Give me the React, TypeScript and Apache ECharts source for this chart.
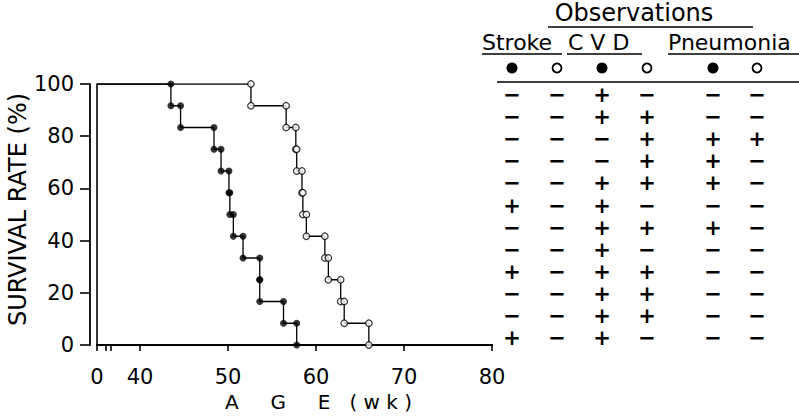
import React, { useEffect, useRef } from 'react';
import * as echarts from 'echarts';

// ---- axis layout values (broken age axis: "0" then 40..80) ----
const AGE_ZERO_POS = 35.1; // where the "0" of the broken age axis sits
const BREAK_LEFT = 36.14;
const BREAK_RIGHT = 36.7;
const X_MAX = 80;
const X_LABELS = [40, 50, 60, 70, 80];
const Y_MAX = 100;
const Y_INTERVAL = 20;

// ---- survival data: ages (wk) at which each animal died, 12 per group ----
const filledDeaths = [43.5, 44.6, 48.4, 49.2, 50.1, 50.2, 50.6, 51.7, 53.6, 53.6, 56.3, 57.8];
const openDeaths = [52.6, 56.6, 57.7, 57.8, 58.4, 58.5, 58.9, 61.0, 61.4, 62.8, 63.2, 66.0];

// ---- observation table ----
const tableTitle = 'Observations';
const groupHeads = ['Stroke', 'C V D', 'Pneumonia'];
const strokeFilled = ['−', '−', '−', '−', '−', '+', '−', '−', '+', '−', '−', '+'];
const strokeOpen = ['−', '−', '−', '−', '−', '−', '−', '−', '−', '−', '−', '−'];
const cvdFilled = ['+', '+', '−', '−', '+', '+', '+', '+', '+', '+', '+', '+'];
const cvdOpen = ['−', '+', '+', '+', '+', '−', '+', '−', '+', '+', '+', '−'];
const pneuFilled = ['−', '−', '+', '+', '+', '−', '+', '−', '−', '−', '−', '−'];
const pneuOpen = ['−', '−', '+', '−', '−', '−', '−', '−', '−', '−', '−', '−'];

const FONT = 'DejaVu Sans';

function stepVertices(deaths: number[]) {
  const n = deaths.length;
  const pts: number[][] = [[AGE_ZERO_POS, 100]];
  const marks: number[][] = [];
  let s = 100;
  deaths.forEach((t, i) => {
    const next = (100 * (n - i - 1)) / n;
    pts.push([t, s]);
    marks.push([t, s]);
    pts.push([t, next]);
    marks.push([t, next]);
    s = next;
  });
  return { pts, marks };
}

export default function App() {
  const ref = useRef<HTMLDivElement>(null);
  useEffect(() => {
    if (!ref.current) return;
    const chart = echarts.init(ref.current, undefined, { renderer: 'svg' });
    const f = stepVertices(filledDeaths);
    const o = stepVertices(openDeaths);

    const axisText = { color: '#000', fontFamily: FONT, fontSize: 21 };

    chart.setOption({
      animation: false,
      backgroundColor: '#fff',
      grid: { left: 97, right: 307, top: 84, bottom: 68, containLabel: false },
      xAxis: [
        {
          type: 'value',
          min: AGE_ZERO_POS,
          max: X_MAX,
          position: 'bottom',
          offset: 4,
          axisLine: { show: true, lineStyle: { color: '#000', width: 1.8 } },
          axisTick: {
            show: true,
            length: 6,
            customValues: [AGE_ZERO_POS, BREAK_LEFT, BREAK_RIGHT, ...X_LABELS],
            lineStyle: { color: '#000', width: 1.6 },
          },
          axisLabel: {
            show: true,
            customValues: [AGE_ZERO_POS, ...X_LABELS],
            formatter: (v: number) => (v < 40 ? '0' : String(Math.round(v))),
            margin: 17,
            ...axisText,
          },
          splitLine: { show: false },
          name: 'A\u00A0\u00A0\u00A0\u00A0\u00A0G\u00A0\u00A0\u00A0\u00A0\u00A0E\u00A0\u00A0\u00A0(\u00A0w\u00A0k\u00A0)',
          nameLocation: 'middle',
          nameGap: 43,
          nameTextStyle: { color: '#000', fontFamily: FONT, fontSize: 20, padding: [0, 0, 0, 48] },
        },
        {
          type: 'value',
          min: AGE_ZERO_POS,
          max: X_MAX,
          position: 'bottom',
          offset: 0,
          axisLine: { show: true, lineStyle: { color: '#000', width: 2.2 } },
          axisTick: { show: false },
          axisLabel: { show: false },
          splitLine: { show: false },
        },
      ],
      yAxis: [
        {
          type: 'value',
          min: 0,
          max: Y_MAX,
          interval: Y_INTERVAL,
          position: 'left',
          offset: 7,
          axisLine: { show: true, lineStyle: { color: '#000', width: 1.8 } },
          axisTick: { show: true, length: 10, lineStyle: { color: '#000', width: 1.6 } },
          axisLabel: { margin: 16, ...axisText },
          splitLine: { show: false },
          name: 'SURVIVAL RATE (%)',
          nameLocation: 'middle',
          nameRotate: 90,
          nameGap: 56,
          nameTextStyle: { color: '#000', fontFamily: FONT, fontSize: 24, padding: [0, 0, 0, 10] },
        },
        {
          type: 'value',
          min: 0,
          max: Y_MAX,
          position: 'left',
          offset: 0,
          axisLine: { show: true, lineStyle: { color: '#000', width: 1.6 } },
          axisTick: { show: false },
          axisLabel: { show: false },
          splitLine: { show: false },
        },
      ],
      series: [
        {
          type: 'line',
          data: f.pts,
          showSymbol: false,
          lineStyle: { color: '#000', width: 1.3 },
          z: 2,
        },
        {
          type: 'line',
          data: o.pts,
          showSymbol: false,
          lineStyle: { color: '#000', width: 1.3 },
          z: 2,
        },
        {
          type: 'scatter',
          data: f.marks,
          symbol: 'circle',
          symbolSize: 7,
          itemStyle: { color: '#000' },
          z: 3,
        },
        {
          type: 'scatter',
          data: o.marks,
          symbol: 'circle',
          symbolSize: 6.5,
          itemStyle: { color: '#fff', borderColor: '#000', borderWidth: 1.2 },
          z: 3,
        },
      ],
    });

    // gap in the lower age axis line (axis break) computed from the axis scale
    const gx1 = chart.convertToPixel({ xAxisIndex: 0 }, BREAK_LEFT) as number;
    const gx2 = chart.convertToPixel({ xAxisIndex: 0 }, BREAK_RIGHT) as number;
    const y0 = chart.convertToPixel({ yAxisIndex: 0 }, 0) as number;

    // table
    const colX = [512, 557, 602, 647, 713, 757];
    const cols = [strokeFilled, strokeOpen, cvdFilled, cvdOpen, pneuFilled, pneuOpen];
    const rowY0 = 95;
    const rowStep = 22.1;
    const g: any[] = [];
    g.push({
      type: 'rect',
      shape: { x: gx1 + 1, y: y0 + 2.2, width: gx2 - gx1 - 2, height: 4 },
      style: { fill: '#fff' },
      z: 100,
    });
    g.push({
      type: 'text',
      x: 634,
      y: 13,
      style: {
        text: tableTitle,
        fill: '#000',
        font: `24px "${FONT}"`,
        lineHeight: 22,
        align: 'center',
        verticalAlign: 'middle',
      },
    });
    g.push({ type: 'line', shape: { x1: 548, y1: 27, x2: 753, y2: 27 }, style: { stroke: '#000', lineWidth: 1.6 } });
    const headX = [482, 568, 668];
    const headLine = [
      [482, 562],
      [567, 642],
      [668, 799],
    ];
    groupHeads.forEach((h, i) => {
      g.push({
        type: 'text',
        x: headX[i],
        y: 42,
        style: {
          text: h,
          fill: '#000',
          font: `22px "${FONT}"`,
          lineHeight: 20,
          align: 'left',
          verticalAlign: 'middle',
        },
      });
      g.push({
        type: 'line',
        shape: { x1: headLine[i][0], y1: 54, x2: headLine[i][1], y2: 54 },
        style: { stroke: '#000', lineWidth: 1.6 },
      });
    });
    colX.forEach((x, i) => {
      if (i % 2 === 0) {
        g.push({ type: 'circle', shape: { cx: x, cy: 68, r: 5.5 }, style: { fill: '#000' } });
      } else {
        g.push({
          type: 'circle',
          shape: { cx: x, cy: 68, r: 4.5 },
          style: { fill: '#fff', stroke: '#000', lineWidth: 1.8 },
        });
      }
    });
    g.push({ type: 'line', shape: { x1: 497, y1: 82, x2: 799, y2: 82 }, style: { stroke: '#000', lineWidth: 1.6 } });
    cols.forEach((col, ci) => {
      col.forEach((v, ri) => {
        g.push({
          type: 'text',
          x: colX[ci],
          y: rowY0 + ri * rowStep,
          style: {
            text: v,
            fill: '#000',
            font: `bold 21px "${FONT}"`,
            lineHeight: 17,
            align: 'center',
            verticalAlign: 'middle',
          },
        });
      });
    });
    chart.setOption({ graphic: g });

    return () => chart.dispose();
  }, []);
  return <div ref={ref} style={{ position: 'fixed', left: 0, top: 0, width: 799, height: 417 }} />;
}
